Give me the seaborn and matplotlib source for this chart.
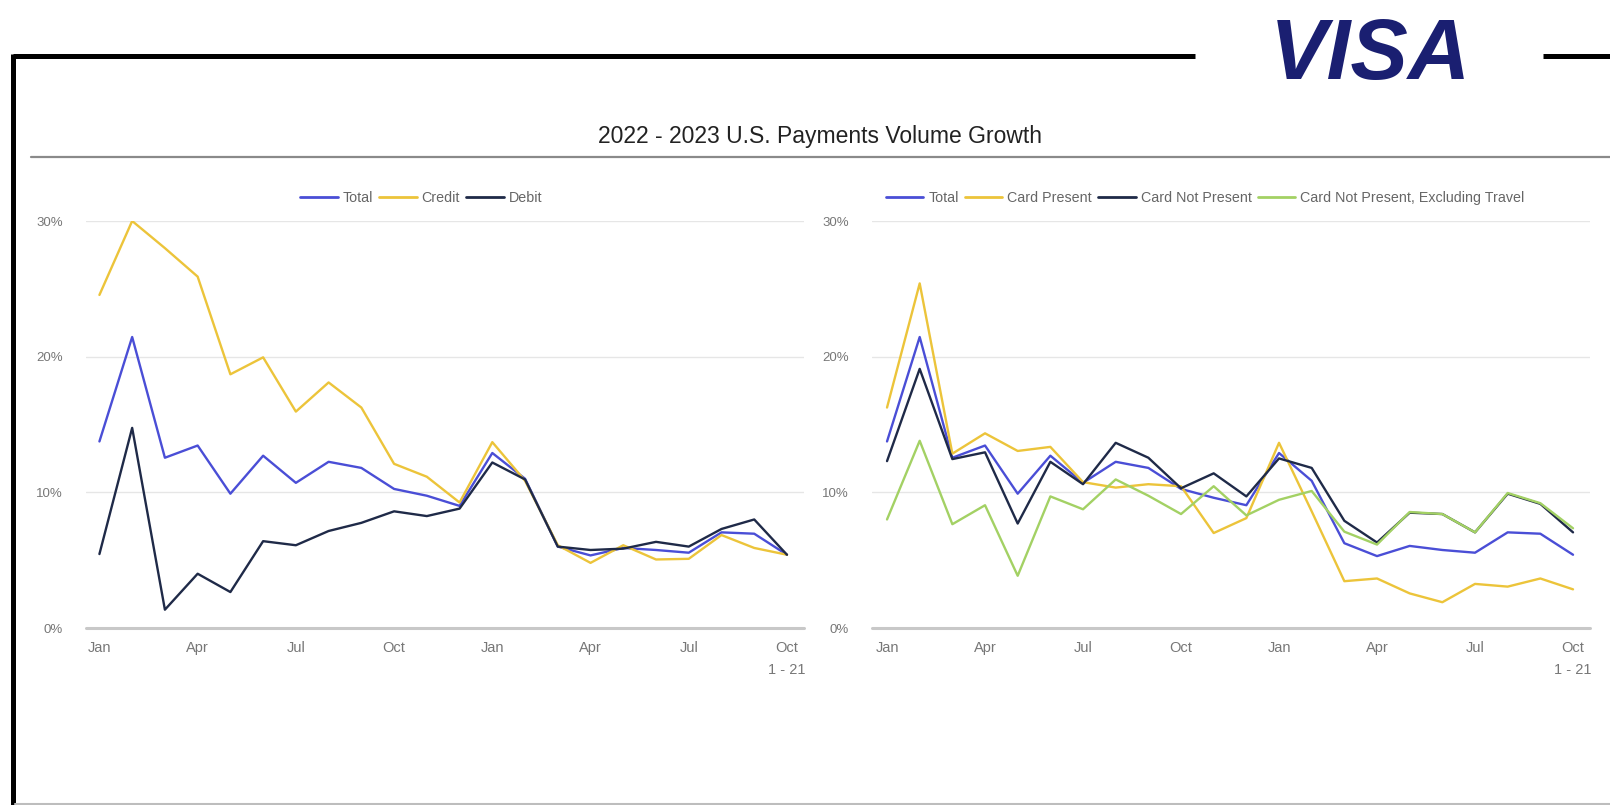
import matplotlib
matplotlib.use("Agg")
import matplotlib.pyplot as plt
from matplotlib.ticker import FuncFormatter
import numpy as np
import pandas as pd
import seaborn as sns

# ---- data: monthly YoY payments volume growth, % (Jan 2022 - Oct 2023, Oct 2023 = 1-21) ----
periods = ["2022-01", "2022-02", "2022-03", "2022-04", "2022-05", "2022-06",
           "2022-07", "2022-08", "2022-09", "2022-10", "2022-11", "2022-12",
           "2023-01", "2023-02", "2023-03", "2023-04", "2023-05", "2023-06",
           "2023-07", "2023-08", "2023-09", "2023-10"]

total_left = [13.75, 21.45, 12.55, 13.45, 9.9, 12.7, 10.7, 12.25, 11.8, 10.25, 9.75, 9.0,
              12.9, 11.0, 6.0, 5.35, 5.9, 5.75, 5.55, 7.05, 6.95, 5.4]
credit = [24.55, 30.0, 28.0, 25.9, 18.7, 19.95, 15.95, 18.1, 16.25, 12.1, 11.15, 9.25,
          13.7, 10.85, 6.1, 4.8, 6.1, 5.05, 5.1, 6.85, 5.9, 5.4]
debit = [5.45, 14.75, 1.35, 4.0, 2.65, 6.4, 6.1, 7.15, 7.75, 8.6, 8.25, 8.8,
         12.2, 10.95, 6.0, 5.75, 5.85, 6.35, 6.0, 7.3, 8.0, 5.4]

total_right = [13.75, 21.45, 12.55, 13.45, 9.9, 12.7, 10.7, 12.25, 11.8, 10.25, 9.6, 9.05,
               12.9, 10.85, 6.25, 5.3, 6.05, 5.75, 5.55, 7.05, 6.95, 5.4]
card_present = [16.25, 25.4, 12.85, 14.35, 13.05, 13.35, 10.75, 10.35, 10.6, 10.45, 7.0, 8.1,
                13.65, 8.6, 3.45, 3.65, 2.55, 1.9, 3.25, 3.05, 3.65, 2.85]
card_not_present = [12.3, 19.1, 12.45, 12.95, 7.7, 12.25, 10.6, 13.65, 12.55, 10.3, 11.4, 9.7,
                    12.5, 11.8, 7.9, 6.3, 8.5, 8.4, 7.05, 9.9, 9.15, 7.05]
card_not_present_ex_travel = [8.0, 13.8, 7.65, 9.05, 3.85, 9.7, 8.75, 10.95, 9.75, 8.4, 10.45, 8.3,
                              9.45, 10.1, 7.1, 6.15, 8.55, 8.4, 7.05, 9.95, 9.2, 7.35]

tick_positions = [0, 3, 6, 9, 12, 15, 18, 21]
tick_labels = ["Jan", "Apr", "Jul", "Oct", "Jan", "Apr", "Jul", "Oct\n1 - 21"]
y_ticks = [0, 10, 20, 30]

left_series = {"Total": total_left, "Credit": credit, "Debit": debit}
right_series = {"Total": total_right, "Card Present": card_present,
                "Card Not Present": card_not_present,
                "Card Not Present, Excluding Travel": card_not_present_ex_travel}

BLUE = "#4a4ed6"
YELLOW = "#ecc43a"
NAVY = "#1f2a48"
GREEN = "#a3d164"

left_palette = {"Total": BLUE, "Credit": YELLOW, "Debit": NAVY}
right_palette = {"Total": BLUE, "Card Present": YELLOW, "Card Not Present": NAVY,
                 "Card Not Present, Excluding Travel": GREEN}


def to_long(series):
    frames = []
    for name, vals in series.items():
        frames.append(pd.DataFrame({"idx": np.arange(len(periods)), "period": periods,
                                    "series": name, "growth": vals}))
    return pd.concat(frames, ignore_index=True)


sns.set_style("white")
plt.rcParams["font.family"] = ["Liberation Sans", "DejaVu Sans"]

W, H = 1610, 805
fig = plt.figure(figsize=(W / 100, H / 100), dpi=100)
fig.patch.set_facecolor("white")

# page decorations drawn in pixel space
bg = fig.add_axes([0, 0, 1, 1], zorder=-5)
bg.set_xlim(0, W)
bg.set_ylim(H, 0)
bg.axis("off")
bg.plot([12.5, 1195], [56, 56], color="black", lw=3.6, solid_capstyle="butt")
bg.plot([1543, W], [56, 56], color="black", lw=3.6, solid_capstyle="butt")
bg.plot([12.5, 12.5], [54.2, H], color="black", lw=3.6, solid_capstyle="butt")
bg.plot([31, W], [157, 157], color="#8a8a8a", lw=1.6)
bg.plot([15, W], [803.5, 803.5], color="#bdbdbd", lw=1.5)
bg.text(1370, 79, "VISA", fontsize=62, fontweight="bold", fontstyle="italic",
        color="#1a1f71", ha="center", va="baseline", family="Liberation Sans")
bg.text(820, 136, "2022 - 2023 U.S. Payments Volume Growth", fontsize=16.5,
        color="#222222", ha="center", va="center")


def y_to_fig(ypix):
    return 1 - ypix / H


def setup_axes(ax, xlim):
    ax.set_xlim(*xlim)
    ax.set_ylim(0, 30)
    ax.set_xlabel("")
    ax.set_ylabel("")
    for s in ax.spines.values():
        s.set_visible(False)
    ax.set_yticks(y_ticks)
    ax.yaxis.set_major_formatter(FuncFormatter(lambda v, _: f"{v:.0f}%"))
    ax.set_xticks(tick_positions)
    ax.set_xticklabels(tick_labels, linespacing=1.75)
    ax.tick_params(axis="both", length=0, labelcolor="#777777")
    ax.tick_params(axis="y", pad=16.5, labelsize=9.5)
    ax.tick_params(axis="x", pad=9.5, labelsize=10.5)
    for yv in y_ticks[1:]:
        ax.axhline(yv, color="#e6e6e6", lw=1.0, zorder=0)
    ax.axhline(0, color="#c8c8c8", lw=2.2, zorder=0, clip_on=False)
    ax.set_facecolor("none")


bottom, top = 628, 221
ax_l = fig.add_axes([86 / W, y_to_fig(bottom), 718 / W, (bottom - top) / H])
ax_r = fig.add_axes([872 / W, y_to_fig(bottom), 718 / W, (bottom - top) / H])

sns.lineplot(data=to_long(left_series), x="idx", y="growth", hue="series",
             hue_order=list(left_series), palette=left_palette, linewidth=1.7, ax=ax_l)
sns.lineplot(data=to_long(right_series), x="idx", y="growth", hue="series",
             hue_order=list(right_series), palette=right_palette, linewidth=1.7, ax=ax_r)

setup_axes(ax_l, (-0.41, 21.52))
setup_axes(ax_r, (-0.46, 21.52))

legend_kw = dict(frameon=False, title=None, fontsize=10.3, handlelength=2.6,
                 handletextpad=0.35, columnspacing=0.45, labelcolor="#666666")
sns.move_legend(ax_l, "center", bbox_to_anchor=(0.467, 1.0565), ncol=3, **legend_kw)
sns.move_legend(ax_r, "center", bbox_to_anchor=(0.464, 1.0565), ncol=4, **legend_kw)
for ax in (ax_l, ax_r):
    for h in ax.get_legend().legend_handles:
        h.set_linewidth(2.0)

fig.savefig("out.png", dpi=100, facecolor="white")
